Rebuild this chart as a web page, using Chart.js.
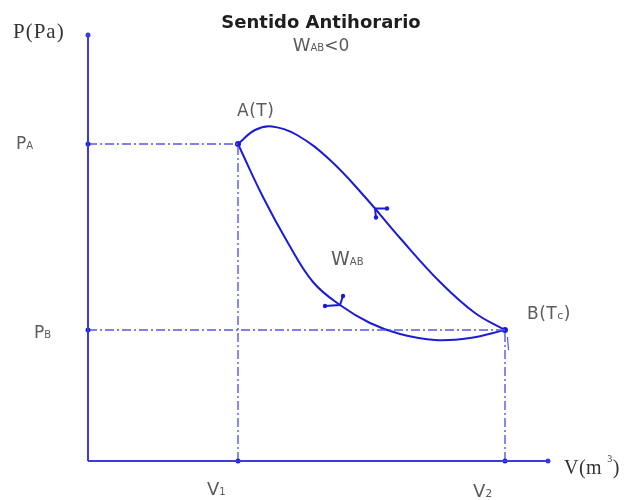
<!DOCTYPE html>
<html>
<head>
<meta charset="utf-8">
<script src="https://cdn.jsdelivr.net/npm/chart.js@4"></script>
<style>
  html, body { margin: 0; padding: 0; background: #ffffff; }
  #wrap { width: 626px; height: 500px; }
</style>
</head>
<body>
<div id="wrap"><canvas id="c" width="626" height="500"></canvas></div>
<script>
// State values (arbitrary units)
const V1 = 3.00, V2 = 8.34;
const PA = 6.34, PB = 2.62;
const V_MAX = 9.2, P_MAX = 8.52;

// Upper branch B -> A (listed left to right)
const upperV = [3.00, 3.34, 3.68, 4.18, 4.84, 5.54, 6.24, 7.04, 7.74, 8.34];
const upperP = [6.34, 6.62, 6.69, 6.52, 6.02, 5.28, 4.46, 3.58, 2.96, 2.62];

// Lower branch A -> B
const lowerV = [3.00, 3.50, 4.00, 4.50, 5.04, 5.64, 6.24, 6.94, 7.64, 8.34];
const lowerP = [6.34, 5.28, 4.36, 3.58, 3.12, 2.76, 2.54, 2.42, 2.46, 2.62];

// Arrow heads: [barb, tip, barb]
const arrowUpV = [5.98, 5.74, 5.76];
const arrowUpP = [5.05, 5.05, 4.87];
const arrowLowV = [5.10, 5.04, 4.74];
const arrowLowP = [3.30, 3.12, 3.10];

// small mark under B
const markV = [8.39, 8.41];
const markP = [2.48, 2.22];

const zip = (xs, ys) => xs.map((x, i) => ({ x: x, y: ys[i] }));

const CURVE = 'rgb(28,28,212)';
const AXIS = 'rgb(58,58,226)';
const GUIDE = 'rgb(86,86,236)';
const TEXT = '#5c5c5c';
const DASHDOT = [9, 3, 2, 3];

const datasets = [
  // axes
  { data: [{x: 0, y: 0}, {x: 0, y: P_MAX}], borderColor: AXIS, borderWidth: 2,
    pointRadius: [0, 2.5], pointBackgroundColor: AXIS, pointBorderWidth: 0 },
  { data: [{x: 0, y: 0}, {x: V_MAX, y: 0}], borderColor: AXIS, borderWidth: 2,
    pointRadius: [0, 2.5], pointBackgroundColor: AXIS, pointBorderWidth: 0 },
  // guide lines
  { data: [{x: 0, y: PA}, {x: V1, y: PA}], borderColor: GUIDE, borderWidth: 1.4, borderDash: DASHDOT,
    pointRadius: [2.5, 0], pointBackgroundColor: CURVE, pointBorderWidth: 0 },
  { data: [{x: V1, y: 0}, {x: V1, y: PA}], borderColor: GUIDE, borderWidth: 1.4, borderDash: DASHDOT,
    pointRadius: [2.5, 0], pointBackgroundColor: CURVE, pointBorderWidth: 0 },
  { data: [{x: 0, y: PB}, {x: V2, y: PB}], borderColor: GUIDE, borderWidth: 1.4, borderDash: DASHDOT,
    pointRadius: [2.5, 0], pointBackgroundColor: CURVE, pointBorderWidth: 0 },
  { data: [{x: V2, y: 0}, {x: V2, y: PB}], borderColor: GUIDE, borderWidth: 1.4, borderDash: DASHDOT,
    pointRadius: [2.5, 0], pointBackgroundColor: CURVE, pointBorderWidth: 0 },
  // process curves
  { data: zip(upperV, upperP), borderColor: CURVE, borderWidth: 2, tension: 0.4, pointRadius: 0 },
  { data: zip(lowerV, lowerP), borderColor: CURVE, borderWidth: 2, tension: 0.4, pointRadius: 0 },
  // arrows
  { data: zip(arrowUpV, arrowUpP), borderColor: CURVE, borderWidth: 2,
    pointRadius: [2.2, 0, 2.2], pointBackgroundColor: CURVE, pointBorderWidth: 0 },
  { data: zip(arrowLowV, arrowLowP), borderColor: CURVE, borderWidth: 2,
    pointRadius: [2.2, 0, 2.2], pointBackgroundColor: CURVE, pointBorderWidth: 0 },
  { data: zip(markV, markP), borderColor: GUIDE, borderWidth: 1.2, pointRadius: 0 },
  // states A and B
  { data: [{x: V1, y: PA}, {x: V2, y: PB}], showLine: false,
    pointRadius: 3, pointBackgroundColor: CURVE, pointBorderWidth: 0 }
].map(d => Object.assign({ showLine: true, fill: false, clip: false }, d));

// draws text made of parts with individual sizes / vertical offsets
function drawParts(ctx, x, y, parts, family, color, align, spacing) {
  ctx.fillStyle = color;
  ctx.textBaseline = 'alphabetic';
  ctx.textAlign = 'left';
  ctx.letterSpacing = (spacing || 0) + 'px';
  let total = 0;
  parts.forEach(p => {
    ctx.font = (p.weight || 'normal') + ' ' + p.size + 'px ' + (p.family || family);
    p.w = ctx.measureText(p.t).width + (p.gap || 0);
    total += p.w;
  });
  let cx = align === 'center' ? x - total / 2 : x;
  parts.forEach(p => {
    ctx.font = (p.weight || 'normal') + ' ' + p.size + 'px ' + (p.family || family);
    ctx.fillText(p.t, cx, y + (p.dy || 0));
    cx += p.w;
  });
  ctx.letterSpacing = '0px';
}

const labelsPlugin = {
  id: 'labels',
  afterDraw(chart) {
    const ctx = chart.ctx;
    const sx = chart.scales.x, sy = chart.scales.y;
    const SANS = '"DejaVu Sans"';
    const SERIF = '"Liberation Serif"';
    ctx.save();
    // title
    drawParts(ctx, 321, 28, [{ t: 'Sentido Antihorario', size: 18, weight: 'bold' }], SANS, '#1e1e1e', 'center');
    drawParts(ctx, 321, 51, [{ t: 'W', size: 18 }, { t: 'AB', size: 10 }, { t: '<0', size: 17 }], SANS, TEXT, 'center');
    // axis titles
    drawParts(ctx, 13, 38, [{ t: 'P(Pa)', size: 21 }], SERIF, '#333333', 'left', 1);
    drawParts(ctx, 564, 474, [{ t: 'V(m', size: 20, gap: 5 }, { t: '3', size: 10, dy: -12 }, { t: ')', size: 20 }], SERIF, '#333333', 'left', 0.5);
    // pressure labels
    drawParts(ctx, 16, sy.getPixelForValue(PA) + 5, [{ t: 'P', size: 17 }, { t: 'A', size: 10 }], SANS, TEXT, 'left');
    drawParts(ctx, 34, sy.getPixelForValue(PB) + 8, [{ t: 'P', size: 17 }, { t: 'B', size: 10 }], SANS, TEXT, 'left');
    // volume labels
    drawParts(ctx, sx.getPixelForValue(V1) - 31, 495, [{ t: 'V', size: 18 }, { t: '1', size: 10 }], SANS, TEXT, 'left');
    drawParts(ctx, sx.getPixelForValue(V2) - 32, 497, [{ t: 'V', size: 18 }, { t: '2', size: 11 }], SANS, TEXT, 'left');
    // state labels
    drawParts(ctx, sx.getPixelForValue(V1) - 1, sy.getPixelForValue(PA) - 28, [{ t: 'A(T)', size: 17 }], SANS, TEXT, 'left', 0.5);
    drawParts(ctx, sx.getPixelForValue(V2) + 22, sy.getPixelForValue(PB) - 11,
      [{ t: 'B(T', size: 17 }, { t: 'c', size: 11 }, { t: ')', size: 17 }], SANS, TEXT, 'left', 0.5);
    // work label
    drawParts(ctx, 331, 265, [{ t: 'W', size: 19 }, { t: 'AB', size: 10 }], SANS, TEXT, 'left');
    ctx.restore();
  }
};

new Chart(document.getElementById('c'), {
  type: 'scatter',
  data: { datasets: datasets },
  options: {
    responsive: false,
    devicePixelRatio: 1,
    animation: false,
    layout: { padding: { left: 88, right: 78, top: 35, bottom: 39 } },
    plugins: { legend: { display: false }, tooltip: { enabled: false }, title: { display: false } },
    scales: {
      x: { type: 'linear', min: 0, max: V_MAX, display: false },
      y: { type: 'linear', min: 0, max: P_MAX, display: false }
    }
  },
  plugins: [labelsPlugin]
});
</script>
</body>
</html>
